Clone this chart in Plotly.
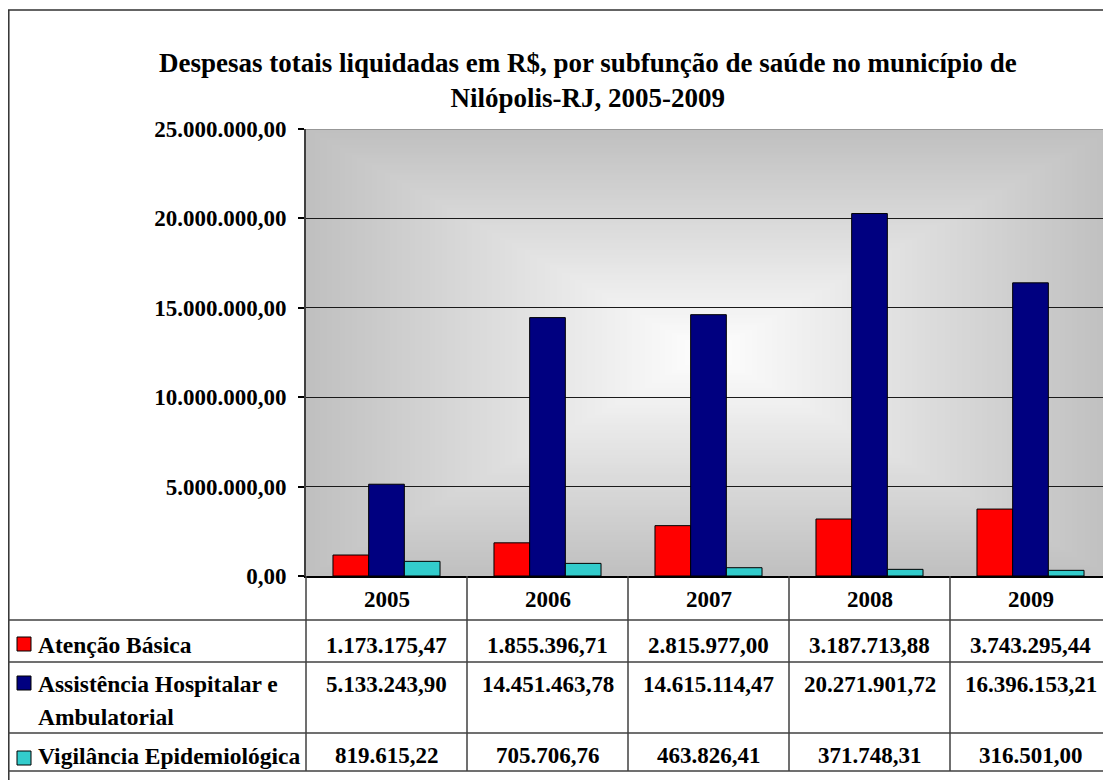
import base64, struct, zlib
import numpy as np
import plotly.graph_objects as go

# ---------------- data ----------------
years = ["2005", "2006", "2007", "2008", "2009"]
atencao_basica = [1173175.47, 1855396.71, 2815977.00, 3187713.88, 3743295.44]
assistencia_hosp = [5133243.90, 14451463.78, 14615114.47, 20271901.72, 16396153.21]
vigilancia_epid = [819615.22, 705706.76, 463826.41, 371748.31, 316501.00]
series_names = ["Atenção Básica", "Assistência Hospitalar e<br>Ambulatorial", "Vigilância Epidemiológica"]
series_colors = ["#FF0000", "#000080", "#33CCCC"]
y_tick_vals = [0, 5000000, 10000000, 15000000, 20000000, 25000000]
y_tick_text = ["0,00", "5.000.000,00", "10.000.000,00", "15.000.000,00", "20.000.000,00", "25.000.000,00"]
title_text = "Despesas totais liquidadas em R$, por subfunção de saúde no município de<br>Nilópolis-RJ, 2005-2009"

series_values = [atencao_basica, assistencia_hosp, vigilancia_epid]


def br(v):
    s = f"{v:,.2f}"
    return s.replace(",", "#").replace(".", ",").replace("#", ".")


# ---------------- layout geometry (screen pixels; page body has an 8px margin) ----------------
OFF = 8
W, H = 1111 - OFF, 780 - OFF
PX0, PX1, PY0, PY1 = 306, 1111, 576, 129  # plot area on screen: left, right, bottom(0), top
PW, PH = PX1 - PX0, PY0 - PY1
NC = len(years)
CW = PW / NC


def px(x):
    return (x - PX0) / PW


def py(y):
    return (PY0 - y) / PH


FONT = "Liberation Serif"
TFS = 23  # table / tick font size

# ---------------- gradient background image ----------------
gw, gh = 322, 179
u = (np.arange(gw) + 0.5) / gw
v = (np.arange(gh) + 0.5) / gh
U, V = np.meshgrid(u, v)
t = np.maximum(np.abs(U - 0.5) / 0.5, np.abs(V - 0.5) / 0.5)
c = np.clip(255 - 63 * t, 0, 255).astype(np.uint8)
arr = np.stack([c, c, c], axis=-1)


def make_png(a):
    h, w, _ = a.shape
    raw = b"".join(b"\x00" + a[r].tobytes() for r in range(h))

    def chunk(tag, data):
        out = struct.pack(">I", len(data)) + tag + data
        return out + struct.pack(">I", zlib.crc32(tag + data) & 0xFFFFFFFF)

    png = (b"\x89PNG\r\n\x1a\n"
           + chunk(b"IHDR", struct.pack(">IIBBBBB", w, h, 8, 2, 0, 0, 0))
           + chunk(b"IDAT", zlib.compress(raw, 9))
           + chunk(b"IEND", b""))
    return "data:image/png;base64," + base64.b64encode(png).decode()


bg_src = make_png(arr)

# ---------------- figure ----------------
fig = go.Figure()
for name, vals, col in zip(series_names, series_values, series_colors):
    fig.add_trace(go.Bar(
        x=years, y=vals, name=name.replace("<br>", " "),
        marker=dict(color=col, line=dict(color="#000000", width=1)),
    ))

shapes = []
annotations = []

# outer chart border (left and top)
shapes.append(dict(type="line", xref="paper", yref="paper", x0=px(8.8), x1=px(8.8), y0=py(10), y1=py(800),
                   line=dict(color="#303030", width=1.5)))
shapes.append(dict(type="line", xref="paper", yref="paper", x0=px(8), x1=px(1130), y0=py(10), y1=py(10),
                   line=dict(color="#303030", width=1.5)))
# plot area top edge (grey)
shapes.append(dict(type="line", xref="paper", yref="y", x0=0, x1=1, y0=25000000, y1=25000000,
                   line=dict(color="#8a8a8a", width=1.5)))

# data table lines
table_rows_y = [620, 662, 733, 771]
for yy in table_rows_y:
    shapes.append(dict(type="line", xref="paper", yref="paper", x0=px(8), x1=px(1130), y0=py(yy), y1=py(yy),
                       line=dict(color="#404040", width=1.5)))
for i in range(NC):
    xx = PX0 + i * CW
    shapes.append(dict(type="line", xref="paper", yref="paper", x0=px(xx), x1=px(xx), y0=py(576), y1=py(771),
                       line=dict(color="#404040", width=1.5)))


def col_center(i):
    return px(PX0 + (i + 0.5) * CW)


# year headers
for i, yr in enumerate(years):
    annotations.append(dict(x=col_center(i), xref="paper", y=py(599), yref="paper", text=f"<b>{yr}</b>",
                            showarrow=False, font=dict(family=FONT, size=TFS, color="black"),
                            xanchor="center", yanchor="middle"))

# rows: legend keys, labels, values
row_text_y = [645, 684, 756]
row_key_y = [644, 683, 758]
for name, vals, col, ty, ky in zip(series_names, series_values, series_colors, row_text_y, row_key_y):
    shapes.append(dict(type="rect", xref="paper", yref="paper", x0=px(17), x1=px(31), y0=py(ky + 7), y1=py(ky - 7),
                       fillcolor=col, line=dict(color="black", width=1)))
    lines = name.split("<br>")
    for k, ln in enumerate(lines):
        annotations.append(dict(x=px(36), xref="paper", y=py(ty + 33 * k), yref="paper", text=f"<b>{ln}</b>",
                                showarrow=False, font=dict(family=FONT, size=TFS + 0.5, color="black"),
                                xanchor="left", yanchor="middle"))
    for i, vv in enumerate(vals):
        annotations.append(dict(x=col_center(i), xref="paper", y=py(ty), yref="paper", text=f"<b>{br(vv)}</b>",
                                showarrow=False, font=dict(family=FONT, size=TFS, color="black"),
                                xanchor="center", yanchor="middle"))

# title
annotations.append(dict(x=px(588), xref="paper", y=py(81), yref="paper", text=f"<b>{title_text}</b>",
                        showarrow=False, font=dict(family=FONT, size=27, color="black"),
                        xanchor="center", yanchor="middle", align="center"))

fig.update_layout(
    width=W, height=H,
    margin=dict(l=PX0 - OFF, r=W - (PX1 - OFF), t=PY1 - OFF, b=H - (PY0 - OFF), autoexpand=False),
    paper_bgcolor="white",
    plot_bgcolor="rgba(0,0,0,0)",
    showlegend=False,
    barmode="group",
    bargap=0.335,
    bargroupgap=0,
    shapes=shapes,
    annotations=annotations,
    images=[dict(source=bg_src, xref="x domain", yref="y domain", x=0, y=1, sizex=1, sizey=1,
                 xanchor="left", yanchor="top", sizing="stretch", layer="below")],
    xaxis=dict(type="category", range=[-0.5, NC - 0.5], showticklabels=False, ticks="",
               showline=True, linecolor="black", linewidth=1.5, showgrid=False, zeroline=False, fixedrange=True),
    yaxis=dict(range=[0, 25000000], tickvals=y_tick_vals, ticktext=[f"<b>{s}</b>" for s in y_tick_text],
               tickfont=dict(family=FONT, size=TFS, color="black"),
               ticks="outside", ticklen=6, tickcolor="black", tickwidth=1.5,
               ticklabelstandoff=7,
               showline=True, linecolor="#404040", linewidth=2,
               showgrid=True, gridcolor="#1a1a1a", gridwidth=1.2, zeroline=False, fixedrange=True),
)

fig.write_html("out.html")
